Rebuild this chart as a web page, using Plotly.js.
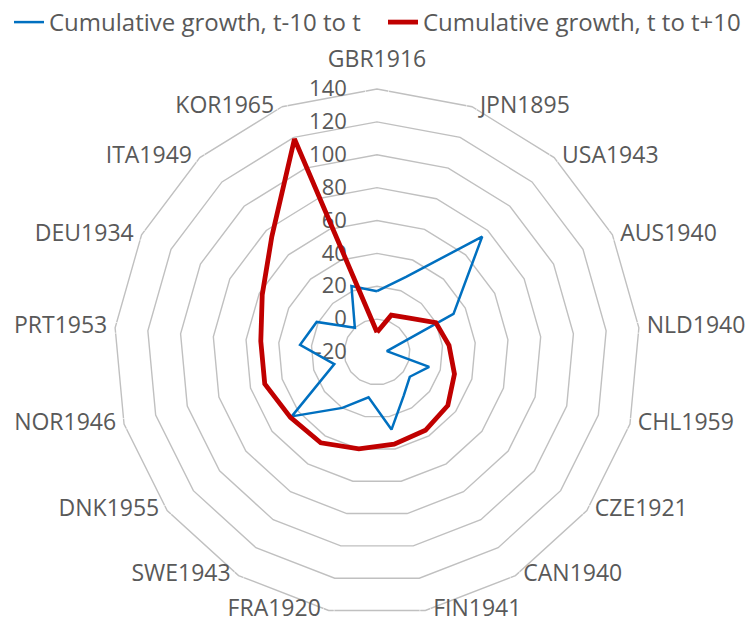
<!DOCTYPE html>
<html>
<head>
<meta charset="utf-8">
<script src="https://cdn.plot.ly/plotly-3.0.1.min.js"></script>
<style>
  html, body { margin: 0; padding: 0; background: #ffffff; }
  #chart { width: 748px; height: 633px; }
</style>
</head>
<body>
<div id="chart"></div>
<script>
// Categories (clockwise from top)
const categories = ["GBR1916", "JPN1895", "USA1943", "AUS1940", "NLD1940", "CHL1959",
  "CZE1921", "CAN1940", "FIN1941", "FRA1920", "SWE1943", "DNK1955", "NOR1946",
  "PRT1953", "DEU1934", "ITA1949", "KOR1965"];

// Cumulative growth, t-10 to t
const growthBefore = [17, 29, 75, 32, -14, 13, 5, 11, 28, 8, 20, 45, 7, 27, 21, 0, 23];

// Cumulative growth, t to t+10
const growthAfter = [-8, 4, 8, 20, 24, 29, 34, 36, 37, 40, 45, 46, 51, 51, 58, 75, 119];

// Radial tick values and labels
const radialTicks = [-20, 0, 20, 40, 60, 80, 100, 120, 140];
const radialTickText = ["-20", "0", "20", "40", "60", "80", "100", "120", "140"];

const seriesNames = ["Cumulative growth, t-10 to t", "Cumulative growth, t to t+10"];

const radialRange = [radialTicks[0], radialTicks[radialTicks.length - 1]];

function closed(arr) { return arr.concat([arr[0]]); }

const gridColor = "#c0c0c0";
const textColor = "#595959";
const fontFamily = "'Open Sans', 'Noto Sans', sans-serif";

// Category labels placed Excel-style beside the outer vertices
const nCat = categories.length;
const labelPositions = categories.map(function (c, i) {
  const a = (i * 360 / nCat);
  if (a === 0) return "top center";
  if (a < 180) return "middle right";
  if (a === 180) return "bottom center";
  return "middle left";
});
// invisible marker sizes only used to set the gap between vertex and label
const labelGap = categories.map(function (c, i) { return (i === 0) ? 24 : 11; });

const traces = [
  {
    type: "scatterpolar",
    mode: "lines",
    name: seriesNames[0],
    r: closed(growthBefore),
    theta: closed(categories),
    line: { color: "#0070C0", width: 2.5 },
    legend: "legend",
    hoverinfo: "skip"
  },
  {
    type: "scatterpolar",
    mode: "lines",
    name: seriesNames[1],
    r: closed(growthAfter),
    theta: closed(categories),
    line: { color: "#C00000", width: 4.8 },
    legend: "legend2",
    hoverinfo: "skip"
  },
  {
    type: "scatterpolar",
    mode: "markers+text",
    r: categories.map(function () { return radialRange[1]; }),
    theta: categories,
    text: categories,
    textposition: labelPositions,
    textfont: { size: 23, color: textColor, family: fontFamily },
    marker: { size: labelGap, color: "rgba(0,0,0,0)" },
    cliponaxis: false,
    showlegend: false,
    hoverinfo: "skip"
  }
];

const legendFont = { size: 24, color: textColor, family: fontFamily };

const layout = {
  width: 748,
  height: 633,
  margin: { l: 0, r: 0, t: 0, b: 0 },
  paper_bgcolor: "#ffffff",
  font: { family: fontFamily, color: textColor },
  showlegend: true,
  legend: {
    orientation: "h",
    x: 0.012, xanchor: "left",
    y: 1.0, yanchor: "top",
    font: legendFont,
    itemwidth: 30,
    bgcolor: "rgba(0,0,0,0)"
  },
  legend2: {
    orientation: "h",
    x: 0.512, xanchor: "left",
    y: 1.0, yanchor: "top",
    font: legendFont,
    itemwidth: 30,
    bgcolor: "rgba(0,0,0,0)"
  },
  polar: {
    domain: { x: [0.15241, 0.85561], y: [0.02844, 0.85940] },
    bgcolor: "#ffffff",
    gridshape: "linear",
    radialaxis: {
      range: radialRange,
      tickmode: "array",
      tickvals: radialTicks,
      ticktext: radialTickText,
      angle: 90,
      side: "counterclockwise",
      tickangle: 90,
      showline: false,
      showgrid: true,
      gridcolor: gridColor,
      gridwidth: 1.4,
      ticks: "outside",
      ticklen: 22,
      tickcolor: "rgba(0,0,0,0)",
      tickfont: { size: 22, color: textColor, family: fontFamily },
      layer: "below traces"
    },
    angularaxis: {
      type: "category",
      categoryarray: categories,
      direction: "clockwise",
      rotation: 90,
      showgrid: false,
      showline: true,
      linecolor: gridColor,
      linewidth: 1.4,
      ticks: "",
      showticklabels: false,
      layer: "below traces"
    }
  }
};

Plotly.newPlot("chart", traces, layout, { staticPlot: true, displayModeBar: false });
</script>
</body>
</html>
